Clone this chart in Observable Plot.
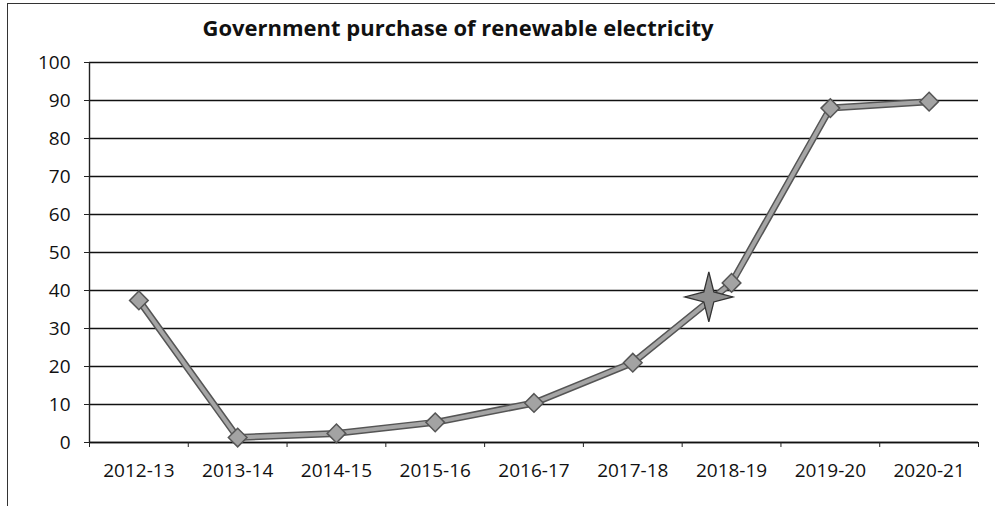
<!DOCTYPE html>
<html>
<head>
<meta charset="utf-8">
<script src="https://cdn.jsdelivr.net/npm/d3@7"></script>
<script src="https://cdn.jsdelivr.net/npm/@observablehq/plot@0.6"></script>
<style>
  body { margin: 0; background: #fff; font-family: "Open Sans", sans-serif; }
  #wrap { position: relative; width: 995px; height: 506px; overflow: hidden; }
  #frame { position: absolute; left: 7px; top: 3px; width: 990px; height: 510px; border-left: 1.5px solid #333; border-top: 1.5px solid #333; }
  #title { position: absolute; left: 0; top: 12px; width: 916px; text-align: center; font-weight: bold; font-size: 22px; color: #111; }
  #chart { position: absolute; left: 0; top: 0; }
</style>
</head>
<body>
<div id="wrap">
  <div id="frame"></div>
  <div id="chart"></div>
  <div id="title">Government purchase of renewable electricity</div>
</div>
<script>
const categories = ["2012-13","2013-14","2014-15","2015-16","2016-17","2017-18","2018-19","2019-20","2020-21"];
const values = [37.4, 1.3, 2.4, 5.3, 10.4, 21, 42, 88, 89.7];
const yTicks = [0,10,20,30,40,50,60,70,80,90,100];
// decorative sparkle drawn on the line between 2017-18 and 2018-19
const sparklePosition = [5.77];
const sparkleValue = [38.3];

const data = categories.map((c, i) => ({i, c, v: values[i]}));
const sparkle = sparklePosition.map((p, k) => ({p, v: sparkleValue[k]}));
const boundaries = d3.range(categories.length + 1).map(i => i - 0.5);

const sparkleSymbol = {
  draw(ctx, size) {
    const s = Math.sqrt(size / Math.PI);
    const V = 2.5 * s, H = 2.4 * s, n = 0.5 * s;
    ctx.moveTo(0, -V);
    ctx.lineTo(n, -n);
    ctx.lineTo(H, 0);
    ctx.lineTo(n, n);
    ctx.lineTo(0, V);
    ctx.lineTo(-n, n);
    ctx.lineTo(-H, 0);
    ctx.lineTo(-n, -n);
    ctx.closePath();
  }
};

const chart = Plot.plot({
  width: 995,
  height: 506,
  marginTop: 62,
  marginBottom: 64,
  marginLeft: 89,
  marginRight: 17,
  style: { fontFamily: "Open Sans, sans-serif", fontSize: "19px", color: "#111", background: "transparent" },
  x: { type: "linear", domain: [-0.5, categories.length - 0.5], label: null },
  y: { domain: [0, 100], label: null },
  marks: [
    Plot.gridY(yTicks, { stroke: "#111", strokeOpacity: 1, strokeWidth: 1.4 }),
    Plot.ruleX([-0.5], { stroke: "#222", strokeWidth: 1.4 }),
    Plot.ruleY([0], { stroke: "#111", strokeWidth: 1.6 }),
    Plot.axisY(yTicks, { tickSize: 5, tickPadding: 14, stroke: "#222", fontSize: 19, fill: "#111", label: null }),
    Plot.axisX(boundaries, { tickSize: 5, tickFormat: () => "", stroke: "#222", label: null }),
    Plot.axisX(d3.range(categories.length), { tickSize: 0, tickPadding: 21, tickFormat: i => categories[i], fontSize: 19, fill: "#111", label: null }),
    Plot.line(data, { x: "i", y: "v", stroke: "#555", strokeWidth: 7 }),
    Plot.line(data, { x: "i", y: "v", stroke: "#a5a5a5", strokeWidth: 4 }),
    Plot.dot(sparkle, { x: "p", y: "v", symbol: sparkleSymbol, r: 10, fill: "#909090", stroke: "#333", strokeWidth: 1.3 }),
    Plot.dot(data, { x: "i", y: "v", symbol: "diamond2", r: 8.4, fill: "#a3a3a3", stroke: "#555", strokeWidth: 1.5 })
  ]
});
document.getElementById("chart").appendChild(chart);
</script>
</body>
</html>
